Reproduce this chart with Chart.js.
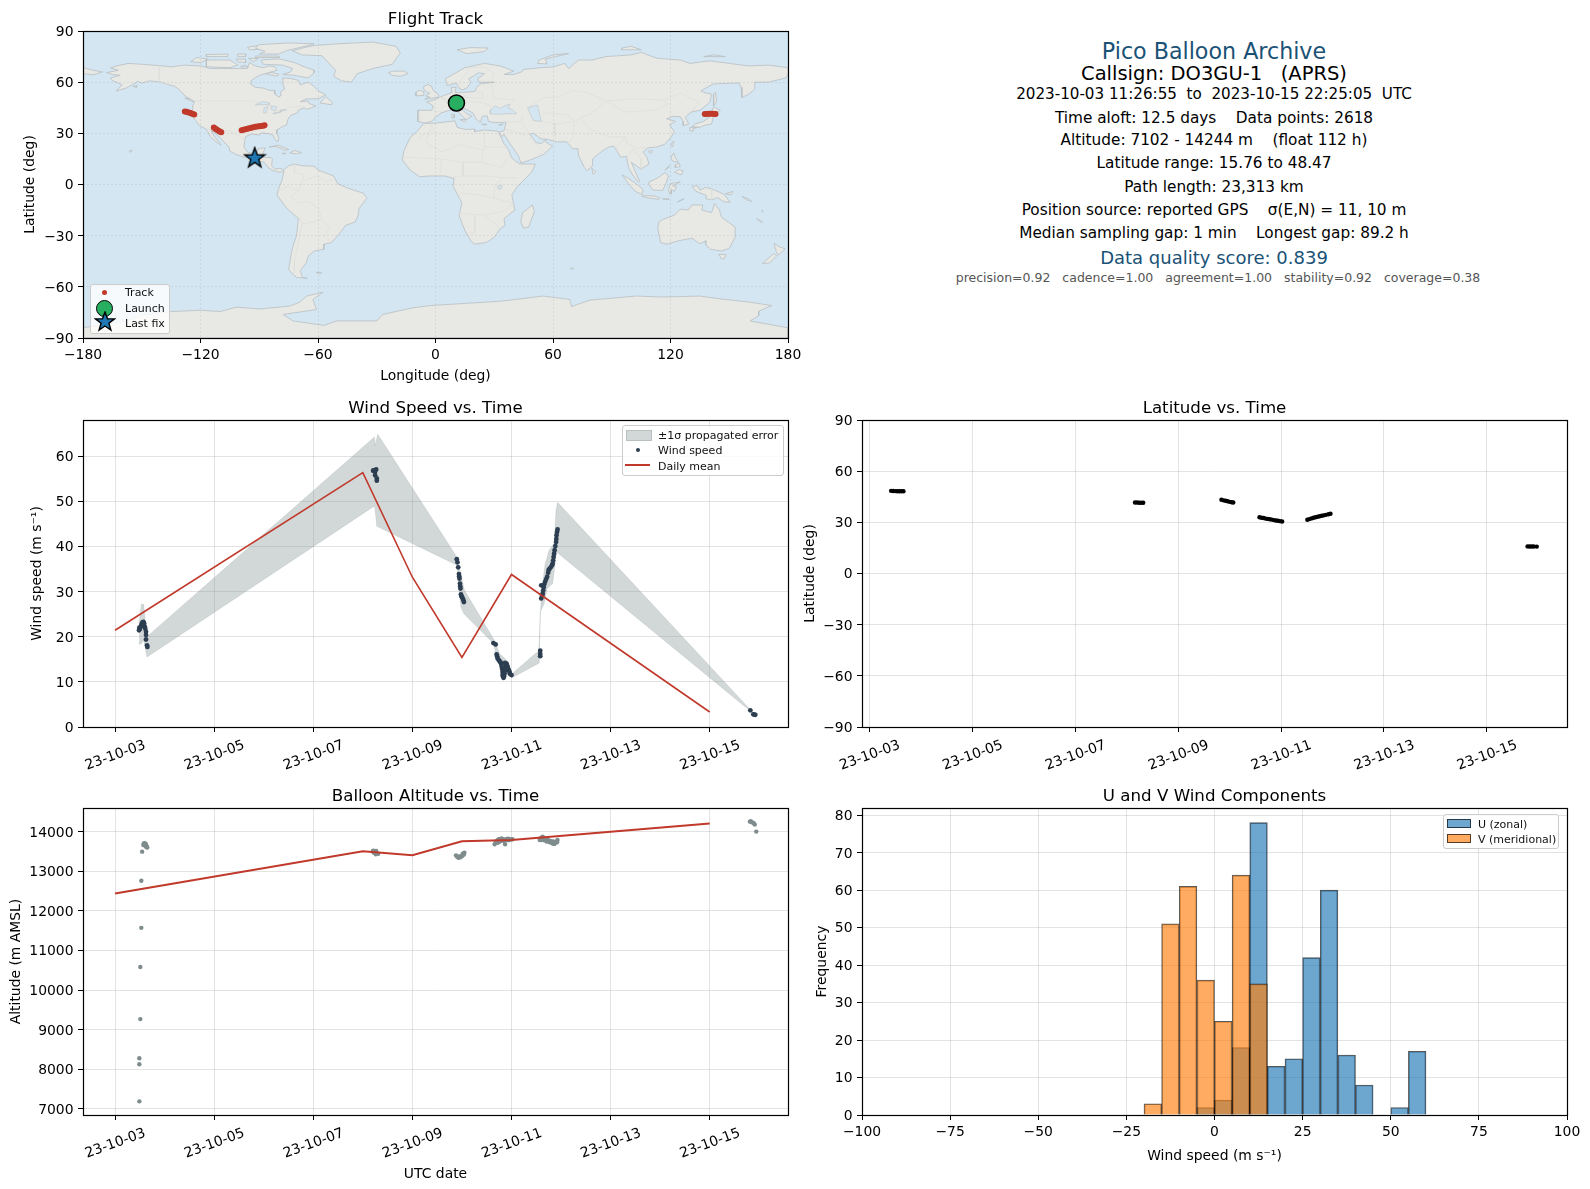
<!DOCTYPE html>
<html>
<head>
<meta charset="utf-8">
<title>Pico Balloon Archive</title>
<script src="https://cdn.jsdelivr.net/npm/chart.js@4/dist/chart.umd.min.js"></script>
<style>
  html, body { margin: 0; padding: 0; background: #fff; }
  body { position: relative; width: 1590px; height: 1189px; overflow: hidden; font-family: "DejaVu Sans", sans-serif; color: #000; }
  canvas { position: absolute; }
  .info { position: absolute; left: 814px; width: 800px; text-align: center; white-space: pre; transform: translateY(-50%); }
  .legend { position: absolute; box-sizing: border-box; background: rgba(255,255,255,.8); border: 1px solid #ccc; border-radius: 3px; font-size: 11px; color: #111; }
  .legend span, .legend i, .legend svg { position: absolute; }
  .legend span { transform: translateY(-50%); white-space: pre; }
</style>
</head>
<body>
<canvas id="mapChart"></canvas>
<canvas id="windChart"></canvas>
<canvas id="latChart"></canvas>
<canvas id="altChart"></canvas>
<canvas id="histChart"></canvas>

<div class="info" style="top:51px;font-size:22.2px;color:#1a5276">Pico Balloon Archive</div>
<div class="info" style="top:73px;font-size:19.5px">Callsign: DO3GU-1   (APRS)</div>
<div class="info" style="top:94px;font-size:15.15px">2023-10-03 11:26:55  to  2023-10-15 22:25:05  UTC</div>
<div class="info" style="top:118px;font-size:15.3px">Time aloft: 12.5 days    Data points: 2618</div>
<div class="info" style="top:140px;font-size:15.3px">Altitude: 7102 - 14244 m    (float 112 h)</div>
<div class="info" style="top:163px;font-size:15.3px">Latitude range: 15.76 to 48.47</div>
<div class="info" style="top:187px;font-size:15.3px">Path length: 23,313 km</div>
<div class="info" style="top:210px;font-size:15.3px">Position source: reported GPS    σ(E,N) = 11, 10 m</div>
<div class="info" style="top:233px;font-size:15.3px">Median sampling gap: 1 min    Longest gap: 89.2 h</div>
<div class="info" style="top:257px;font-size:18px;color:#1a5276">Data quality score: 0.839</div>
<div class="info" style="top:277px;left:818px;font-size:12.5px;color:#555">precision=0.92   cadence=1.00   agreement=1.00   stability=0.92   coverage=0.38</div>

<div class="legend" style="left:90px;top:284px;width:80px;height:50px">
  <i style="left:11px;top:5px;width:5px;height:5px;border-radius:50%;background:#c0392b"></i>
  <span style="left:34px;top:7px">Track</span>
  <i style="left:5px;top:15px;width:15px;height:15px;border-radius:50%;background:#27ae60;border:1.5px solid #000"></i>
  <span style="left:34px;top:23px">Launch</span>
  <svg style="left:3px;top:26px" width="22" height="22" viewBox="-11 -11 22 22"><polygon points="0,-10 2.5,-3.2 9.5,-3.1 3.9,1.2 5.9,8.1 0,4 -5.9,8.1 -3.9,1.2 -9.5,-3.1 -2.5,-3.2" fill="#1f77b4" stroke="#000" stroke-width="1.4"/></svg>
  <span style="left:34px;top:38px">Last fix</span>
</div>

<div class="legend" style="left:622px;top:425px;width:162px;height:51px">
  <i style="left:3px;top:4px;width:24px;height:9px;background:rgba(127,140,141,.35);border:.5px solid rgba(127,140,141,.3)"></i>
  <span style="left:35px;top:9px">±1σ propagated error</span>
  <i style="left:13px;top:22px;width:4px;height:4px;border-radius:50%;background:#2c3e50"></i>
  <span style="left:35px;top:24px">Wind speed</span>
  <i style="left:2px;top:38px;width:25px;height:2px;background:#c0392b"></i>
  <span style="left:35px;top:40px">Daily mean</span>
</div>

<div class="legend" style="left:1443px;top:814px;width:116px;height:35px">
  <i style="left:3px;top:4px;width:22px;height:7px;background:rgba(31,119,180,.65);border:1px solid rgba(0,0,0,.65)"></i>
  <span style="left:34px;top:9px">U (zonal)</span>
  <i style="left:3px;top:19px;width:22px;height:7px;background:rgba(255,127,14,.65);border:1px solid rgba(0,0,0,.65)"></i>
  <span style="left:34px;top:24px">V (meridional)</span>
</div>

<script>
// ---- axis ticks
const lonTicks = [-180, -120, -60, 0, 60, 120, 180];
const latTicks = [-90, -60, -30, 0, 30, 60, 90];
const dayTicks = [0, 2, 4, 6, 8, 10, 12];
const dayLabels = ['23-10-03', '23-10-05', '23-10-07', '23-10-09', '23-10-11', '23-10-13', '23-10-15'];
const windTicks = [0, 10, 20, 30, 40, 50, 60];
const altTicks = [7000, 8000, 9000, 10000, 11000, 12000, 13000, 14000];
const histXTicks = [-100, -75, -50, -25, 0, 25, 50, 75, 100];
const histYTicks = [0, 10, 20, 30, 40, 50, 60, 70, 80];

// ---- flight track, degrees
const trackLon = [-128, -127.2, -126.4, -125.6, -124.8, -124, -123.2, -113.2, -112.6, -112, -111.4, -110.6, -110, -109.4,
  -99, -98, -97, -96, -95, -94, -93, -92, -91, -90, -89, -88, -87.3, 11, 12, 13.5, 137.5, 138.5, 139.5, 140.5, 141.5, 142.5, 143];
const trackLat = [42.8, 42.6, 42.4, 42.1, 41.8, 41.4, 41.1, 33.4, 32.9, 32.4, 31.9, 31.3, 30.9, 30.6,
  31.8, 32.1, 32.4, 32.7, 33, 33.3, 33.5, 33.8, 34, 34.1, 34.3, 34.5, 34.8, 47.9, 48, 48.1, 41.4, 41.4, 41.5, 41.5, 41.5, 41.4, 41.4];
const launchPoint = [10.7, 47.8];
const lastFixPoint = [-92.3, 15.7];

// ---- daily means
const meanDays = [0, 5, 6, 7, 8, 12];
const meanWind = [21.45, 56.4, 33.2, 15.4, 33.8, 3.33];
const meanAlt = [12439, 13502, 13401, 13755, 13789, 14202];

// ---- wind speed samples
const windDays = [0.484, 0.49, 0.5, 0.511, 0.525, 0.538, 0.555, 0.571, 0.585, 0.598, 0.61, 0.625, 0.625, 0.625, 0.645, 0.652,
  5.208, 5.22, 5.248, 5.269, 5.248, 5.282, 5.282,
  6.896, 6.91, 6.925, 6.94, 6.945, 6.95, 6.96, 6.965, 6.97, 6.98, 6.99, 7, 7.015, 7.03, 7.04,
  7.635, 7.68, 7.7, 7.71, 7.72, 7.74, 7.76, 7.78, 7.79, 7.8, 7.81, 7.82, 7.82, 7.84, 7.85, 7.86, 7.87, 7.88, 7.89, 7.9, 7.91, 7.92, 7.93, 7.945, 7.96, 7.97, 8, 7.83, 7.87,
  8.58, 8.58, 8.58, 8.6, 8.6, 8.62, 8.63, 8.64, 8.65, 8.66, 8.68, 8.7, 8.72, 8.74, 8.75, 8.77, 8.8, 8.82, 8.83, 8.84, 8.85, 8.86, 8.87, 8.885, 8.9, 8.905, 8.91, 8.92, 8.93,
  12.82, 12.88, 12.9, 12.92];
const windValues = [21.45, 22, 21.7, 22.04, 22.4, 22.9, 23.2, 23.3, 23, 22.3, 21.8, 21.1, 20.4, 19.4, 18.1, 17.75,
  56.8, 56.9, 56.6, 57.1, 55.8, 55.1, 54.6,
  37.2, 36.5, 35.4, 33.9, 33.4, 32.9, 31.8, 31.2, 30.7, 29.4, 29, 28.8, 28.5, 28.1, 27.7,
  18.6, 18.3, 16.1, 15.7, 15.2, 14.9, 14.6, 14.3, 14.05, 13.5, 12.9, 12.2, 11.5, 10.9, 11.2, 11.8, 12.5, 13.3, 13.9, 14.05, 13.7, 13.3, 13, 12.6, 12.2, 11.8, 11.5, 11.2, 14.2,
  16.9, 16.2, 15.7, 28.5, 31.4, 29.2, 29.6, 30.3, 31, 31.6, 32.2, 32.8, 33.3, 34.2, 34.8, 35.1, 35.5, 35.9, 36.2, 36.9, 37.7, 38.4, 39.2, 40.1, 41, 41.7, 42.5, 43.2, 43.8,
  3.7, 2.8, 2.75, 2.7];

// ---- ±1σ band outline: upper edge forward, lower edge back
const bandUpperDays = [0.484, 0.531, 0.578, 0.618, 0.645, 5.235, 5.248, 5.3, 6.896, 7.05, 7.655, 7.76, 7.9, 8.01, 8.55, 8.6, 8.62, 8.68, 8.76, 8.86, 8.9, 8.93, 12.8, 12.9];
const bandUpper = [22.9, 27.2, 27.2, 22.2, 20, 64.3, 62.3, 64.9, 37.7, 30.3, 19.2, 16.3, 14.8, 11.8, 16.9, 28.8, 31.1, 36.2, 39.2, 40.7, 48.1, 49.8, 4.07, 3];
const bandLowerDays = [0.484, 0.531, 0.578, 0.645, 5.235, 5.248, 5.282, 6.896, 6.98, 7.04, 7.64, 7.7, 7.89, 8.01, 8.56, 8.58, 8.66, 8.72, 8.83, 8.91, 12.8, 12.92];
const bandLower = [18.3, 18.5, 19.2, 15.5, 49, 48.1, 44.5, 35.9, 26.6, 25.1, 18.5, 15.2, 11.8, 10.9, 14.2, 25.5, 27.4, 30.7, 31.8, 38.8, 3.7, 2.6];

// ---- latitude samples
const latDays = [0.42, 0.46, 0.5, 0.54, 0.58, 0.62, 0.66, 5.16, 5.2, 5.24, 5.28, 5.32, 6.84, 6.88, 6.92, 6.96, 7, 7.04, 7.07,
  7.58, 7.62, 7.66, 7.7, 7.74, 7.78, 7.82, 7.86, 7.9, 7.94, 7.98, 8.02,
  8.51, 8.55, 8.59, 8.63, 8.67, 8.71, 8.75, 8.79, 8.83, 8.87, 8.92, 8.96, 12.79, 12.83, 12.87, 12.91, 12.97];
const latValues = [48.47, 48.4, 48.3, 48.25, 48.2, 48.2, 48.2, 41.6, 41.6, 41.5, 41.5, 41.5, 43.2, 42.9, 42.7, 42.4, 42, 41.8, 41.6,
  33, 32.7, 32.5, 32.2, 32, 31.8, 31.6, 31.3, 31.1, 30.9, 30.7, 30.5,
  31.5, 31.9, 32.3, 32.7, 33, 33.3, 33.6, 33.9, 34.1, 34.4, 34.7, 35, 15.9, 15.85, 15.8, 15.8, 15.76];

// ---- altitude samples
const altDays = [0.49, 0.49, 0.49, 0.51, 0.51, 0.53, 0.53, 0.546, 0.57, 0.58, 0.59, 0.6, 0.6, 0.61, 0.62, 0.63, 0.63, 0.64, 0.65,
  5.2, 5.21, 5.22, 5.24, 5.25, 5.26, 5.27, 5.28, 5.31, 5.26,
  6.88, 6.9, 6.92, 6.93, 6.95, 6.97, 6.98, 7.0, 7.01, 7.02, 7.03, 7.05, 7.04,
  7.66, 7.68, 7.7, 7.72, 7.73, 7.75, 7.76, 7.78, 7.79, 7.81, 7.82, 7.84, 7.85, 7.87, 7.88, 7.9, 7.92, 7.94, 7.95, 7.98, 8.0, 8.02, 7.74, 7.8,
  8.57, 8.58, 8.6, 8.6, 8.62, 8.63, 8.65, 8.66, 8.68, 8.69, 8.71, 8.72, 8.74, 8.75, 8.77, 8.78, 8.8, 8.81, 8.83, 8.84, 8.86, 8.87, 8.89, 8.91, 8.93, 8.92, 8.84, 8.66,
  12.81, 12.83, 12.84, 12.87, 12.89, 12.91, 12.94];
const altValues = [7190, 8127, 8278, 9266, 10582, 11570, 12759, 13494, 13660, 13700, 13680, 13660, 13710, 13640, 13690, 13650, 13610, 13620, 13600,
  13500, 13520, 13470, 13510, 13470, 13480, 13510, 13450, 13440, 13430,
  13400, 13370, 13370, 13340, 13360, 13350, 13380, 13380, 13410, 13440, 13440, 13470, 13420,
  13680, 13720, 13764, 13720, 13790, 13740, 13806, 13760, 13810, 13780, 13806, 13770, 13800, 13680, 13780, 13810, 13823, 13780, 13815, 13806, 13800, 13810, 13810, 13830,
  13790, 13823, 13840, 13790, 13860, 13873, 13830, 13780, 13810, 13789, 13750, 13800, 13770, 13780, 13730, 13750, 13760, 13722, 13700, 13750, 13690, 13700, 13722, 13760, 13789, 13730, 13720, 13830,
  14253, 14260, 14240, 14228, 14210, 14177, 14000];

// ---- U and V histograms, 5 m/s bins
const binCentres = [-17.5, -12.5, -7.5, -2.5, 2.5, 7.5, 12.5, 17.5, 22.5, 27.5, 32.5, 37.5, 42.5, 47.5, 52.5, 57.5];
const uCounts = [0, 0, 0, 2, 4, 18, 78, 13, 15, 42, 60, 16, 8, 0, 2, 17];
const vCounts = [3, 51, 61, 36, 25, 64, 35, 0, 0, 0, 0, 0, 0, 0, 0, 0];

// ---- basemap outlines, [lon, lat]
const northAmerica = [[-168, 65.6], [-164, 66.5], [-162, 67], [-166, 68.3], [-163, 69.5], [-157, 71], [-150, 70.5], [-141, 69.7], [-135, 69], [-128, 70], [-120, 69.5], [-115, 68], [-108, 68], [-100, 68], [-96, 68], [-95, 71.5], [-92, 69.5], [-88, 68.5], [-85, 69.5], [-82, 69], [-81, 67], [-87, 65], [-90, 64], [-94, 61], [-94.5, 59], [-92, 57], [-88, 56.5], [-85, 55.3], [-82.3, 55], [-82, 53], [-80, 51.3], [-79, 52], [-79, 54.5], [-77, 56], [-78, 59], [-78, 62.4], [-74, 62.2], [-70, 61], [-69, 58.5], [-65, 60], [-62, 57.5], [-60, 55], [-56, 52.5], [-60, 50.3], [-66, 50.2], [-69, 48.5], [-65, 49], [-64.5, 47.5], [-61, 46], [-64, 44.7], [-66, 44], [-67, 45], [-70, 43.5], [-70.5, 42], [-74, 40.5], [-75.5, 38], [-76, 35], [-78, 34], [-81, 32], [-81, 30], [-80, 27], [-80.5, 25.2], [-82, 26.5], [-83, 29], [-85, 29.7], [-89, 30.3], [-90, 29], [-94, 29.6], [-97, 28], [-97.5, 25], [-97.8, 22], [-96, 19], [-94, 18.2], [-91, 18.8], [-90.5, 21], [-87, 21.5], [-88, 18.5], [-88.5, 16], [-84, 15.8], [-83.3, 15], [-83.7, 11], [-82, 9], [-79.5, 9.5], [-77.5, 8.5], [-78, 7.5], [-80, 7.3], [-83, 8.2], [-85.5, 10], [-87.5, 13], [-91, 14], [-94.5, 16.2], [-97, 15.8], [-101.5, 17.5], [-105, 19.5], [-105.5, 22], [-108, 25], [-110, 27.5], [-112.5, 30], [-114.7, 31.7], [-112.5, 27.5], [-110, 24], [-109.5, 23], [-112, 25], [-115, 28], [-116, 30.5], [-117.2, 32.5], [-120.5, 34.5], [-122.5, 37.5], [-124.3, 40.3], [-124, 46], [-123, 48.5], [-125, 50], [-128, 52], [-130.3, 55], [-133, 57.5], [-137, 58.7], [-140, 60], [-146, 60.8], [-150, 59.5], [-152, 60.5], [-154, 59], [-158, 56.5], [-163, 54.8], [-160, 58.5], [-162, 59.5], [-165, 61], [-166, 62.5], [-161, 64], [-165, 64.5], [-168, 65.6]];
const baffin = [[-80, 73.7], [-72, 71.5], [-67, 69], [-62, 67], [-62, 65.5], [-65, 62.5], [-72, 64], [-78, 64.5], [-74, 66], [-73, 68], [-78, 70], [-88, 70.5], [-89, 73], [-80, 73.7]];
const victoriaIsland = [[-117, 69], [-105, 68.5], [-101, 70], [-105, 73], [-117, 73], [-117, 69]];
const banksIsland = [[-125, 72], [-120, 71.5], [-116, 73.5], [-122, 74.5], [-125, 72]];
const ellesmere = [[-90, 76.5], [-80, 76.5], [-76, 78.5], [-65, 81.5], [-62, 82.5], [-75, 83], [-90, 82], [-92, 80], [-87, 78], [-90, 76.5]];
const devonIsland = [[-92, 75.3], [-80, 75.3], [-80, 74.5], [-92, 74.5], [-92, 75.3]];
const melvilleIsland = [[-117, 75], [-106, 75], [-106, 76.5], [-117, 76.2], [-117, 75]];
const axelHeiberg = [[-95, 79], [-87, 79.5], [-90, 81.5], [-96, 80.5], [-95, 79]];
const southampton = [[-87, 65], [-81, 63.5], [-80, 64.5], [-84, 65.8], [-87, 65]];
const somersetIsland = [[-95.5, 74], [-90.5, 73.8], [-93, 72], [-95.5, 74]];
const princeOfWales = [[-102, 73.5], [-97, 73.5], [-97, 71.5], [-101, 72], [-102, 73.5]];
const kingWilliam = [[-99.5, 69], [-95.5, 69], [-97.5, 70], [-99.5, 69]];
const bathurstIsland = [[-101, 76.5], [-97, 76.5], [-97, 75], [-101, 75], [-101, 76.5]];
const kodiak = [[-154.5, 57.5], [-152.5, 58], [-152.7, 57], [-154.5, 57.5]];
const newfoundland = [[-59, 47.8], [-53, 46.7], [-52.7, 48], [-56, 51.5], [-59, 47.8]];
const vancouverIsland = [[-128, 50.6], [-123.5, 48.4], [-125, 50.2], [-128, 50.6]];
const greenland = [[-73, 78.3], [-68, 76], [-58, 75.5], [-54, 70.5], [-51, 67], [-52, 63.5], [-48, 60.8], [-43, 60], [-40, 65], [-32, 68], [-22, 70.5], [-20, 74], [-18, 77], [-20, 81], [-32, 83.5], [-50, 82.5], [-62, 81.5], [-68, 80], [-73, 78.3]];
const cuba = [[-85, 22], [-80, 23], [-75, 20.5], [-77.5, 20], [-78, 21], [-82, 22.3], [-85, 22]];
const hispaniola = [[-74.4, 18.5], [-72, 20], [-68.5, 18.7], [-71, 18], [-74.4, 18.5]];
const jamaica = [[-78.3, 18.4], [-76.3, 18.2], [-77, 17.8], [-78.3, 18.4]];
const hawaii = [[-156, 20.2], [-155, 19.8], [-155.5, 19], [-156, 20.2]];
const southAmerica = [[-77.5, 8.5], [-75, 11], [-72, 12], [-68, 11], [-62, 10.7], [-60, 8.5], [-52, 5], [-50, 0.5], [-44, -2.5], [-37, -5], [-35, -8], [-39, -14], [-39.5, -18], [-41, -22], [-46, -24], [-48.5, -28], [-53, -34], [-57, -35], [-57, -38], [-62, -39], [-65, -42], [-66, -46], [-69, -50.5], [-68, -54.5], [-65.5, -55], [-71, -54.5], [-75, -50], [-74, -43], [-73, -37], [-71, -30], [-70, -20], [-76, -14], [-81, -6], [-80, -2], [-78.5, 2], [-77.5, 7], [-77.5, 8.5]];
const falklands = [[-61, -51.5], [-58, -51.5], [-59, -52.3], [-61, -51.5]];
const africa = [[-6, 35.8], [0, 36], [10, 37.3], [11, 33.5], [15, 32.3], [20, 32.5], [20, 31], [25, 32], [32, 31.2], [32.5, 30], [35, 24], [37, 21], [39, 15.5], [43, 12], [51, 12], [49, 7], [42, -1], [39, -6], [40.5, -15], [35, -20], [35.5, -24], [33, -26], [30, -31], [26, -34], [20, -35], [18, -33], [15, -27], [12, -18], [13.5, -11], [9, -1], [9.5, 3.5], [5, 5], [-3, 5], [-8, 4.5], [-13, 8.5], [-17, 14.5], [-16, 20], [-13, 27.5], [-9.5, 31], [-6, 35.8]];
const madagascar = [[49.5, -12], [50.5, -16], [47.5, -25], [45, -25.5], [43.5, -22], [44.5, -16.5], [49.5, -12]];
const eurasia = [[-9, 37], [-5.5, 36], [-2, 37], [0, 39.5], [3, 42], [7, 43.5], [10, 44], [12, 42], [15.7, 38], [17, 39], [18.5, 40], [16, 41.5], [13, 44.5], [14, 45], [19, 42], [21, 38], [23, 36.5], [24, 40], [26.5, 40.2], [27, 37], [30, 36.3], [36, 36.5], [35, 31.5], [33, 31], [32.6, 30], [34, 28], [34.9, 29.5], [38, 24], [42.5, 16.5], [43.5, 12.8], [45, 13], [52, 16], [55, 17.5], [59.8, 22.5], [56.4, 24.8], [56.3, 26.2], [54, 24], [51.5, 24.5], [50.5, 26], [48, 29.5], [50, 30], [54, 26.7], [57, 26.5], [61.5, 25], [67, 25], [70, 21], [72.7, 21], [73, 17], [76, 10], [77.5, 8], [80, 11], [80.2, 15], [85, 19.5], [88.5, 22], [91, 22.5], [92.5, 20], [94.5, 16], [97.5, 16.5], [98.5, 10], [100.5, 6], [103.5, 1.5], [104.3, 2], [103, 5], [100, 13], [105, 9], [109, 12], [108, 16], [106, 19], [108.5, 21.5], [113, 22], [117, 23.5], [120.5, 28], [122, 31], [119.5, 35], [122.5, 37], [118, 38.5], [121.5, 40], [125, 39.7], [126.5, 37], [126.5, 34.5], [129.3, 35.5], [127.5, 39.5], [130.5, 42.5], [135, 43.5], [140, 48], [141, 53], [137, 54], [135.5, 55], [142, 59], [155, 59.5], [156, 57], [156.5, 51], [160, 53], [163, 56], [163, 60], [170, 60], [179, 62.5], [180, 65], [180, 68.5], [170, 70], [160, 69.5], [150, 71], [140, 72.5], [130, 71], [125, 73], [113, 74], [105, 77.5], [100, 76], [87, 75], [80, 73], [73, 73], [68, 68], [66, 71], [60, 69], [54, 68.5], [45, 67.5], [44, 66], [40, 64.5], [35, 64.5], [40, 66.5], [33, 69.5], [25, 71], [15, 68.5], [5, 62], [6, 58], [10.5, 59.5], [12.5, 56], [14, 55.5], [16.5, 57], [18, 60], [17, 62], [22, 65.5], [25, 65], [21.5, 62], [22, 60], [30, 60], [23, 59], [21, 57], [20, 54.5], [14, 54], [10, 54], [10.5, 57], [8, 57], [8.5, 54], [4, 52], [-1, 49.5], [-4.5, 48.5], [-1, 46], [-2, 43.5], [-9, 43.5], [-9, 37]];
const chukotka = [[-180, 65], [-175, 64.3], [-170, 66], [-175, 67], [-180, 68.5], [-180, 65]];
const britain = [[-5.5, 50], [1.5, 51.2], [1.5, 52.8], [-1, 55], [-2, 57.5], [-4, 58.7], [-6.5, 57], [-5, 54.5], [-3, 53.5], [-5, 52], [-3, 51.3], [-5.5, 50]];
const ireland = [[-10, 52], [-6, 52.2], [-6, 54.5], [-8.5, 55.2], [-10, 54], [-10, 52]];
const iceland = [[-24, 65.5], [-22, 64], [-18, 63.4], [-14, 65], [-16, 66.5], [-22, 66.4], [-24, 65.5]];
const svalbard = [[11, 79], [16, 76.7], [25, 78], [27, 80], [18, 80.3], [11, 79]];
const novayaZemlya = [[52, 71], [57, 70.7], [56, 73.5], [68, 76.8], [60, 76], [53, 73], [52, 71]];
const severnaya = [[95, 79], [105, 79], [100, 81], [95, 80], [95, 79]];
const newSiberian = [[137, 75], [148, 75], [142, 76], [137, 75]];
const sicily = [[12.5, 38], [15.5, 38.2], [15, 36.7], [12.5, 38]];
const sardinia = [[8.2, 41], [9.7, 41], [9.5, 39], [8.5, 39], [8.2, 41]];
const crete = [[23.6, 35.5], [26.3, 35.2], [24.5, 34.9], [23.6, 35.5]];
const cyprus = [[32.3, 35], [34.5, 35.6], [33.5, 34.6], [32.3, 35]];
const honshu = [[131, 34], [135, 33.5], [137, 34.6], [141, 35.5], [141.8, 39.5], [141, 41.3], [139.8, 39.5], [137, 37], [132.5, 35.5], [131, 34]];
const hokkaido = [[140, 41.8], [143, 42], [145.5, 43.5], [142, 45.4], [141, 43], [140, 41.8]];
const kyushu = [[130, 31.3], [131.8, 31.5], [131.5, 33.5], [129.8, 33.3], [130, 31.3]];
const shikoku = [[132.3, 33], [134.5, 33.6], [134, 34.3], [132.5, 34], [132.3, 33]];
const sakhalin = [[142, 46], [143.5, 49], [143, 54], [142, 53], [142, 46]];
const taiwan = [[120.2, 23], [121.2, 25.2], [121.8, 24.8], [120.9, 22], [120.2, 23]];
const hainan = [[108.7, 19.3], [110.5, 20.1], [110.8, 19], [109.5, 18.2], [108.7, 19.3]];
const sriLanka = [[79.8, 9.5], [81.8, 7.5], [80.5, 6], [79.8, 9.5]];
const luzon = [[120.3, 16], [121.7, 18.5], [122.3, 16], [124, 13], [121, 13.7], [120.3, 16]];
const mindanao = [[122, 7], [125.5, 5.7], [126.5, 8], [124, 8.7], [122, 7]];
const visayas = [[122.5, 10], [125, 10.5], [124.5, 12.5], [122.5, 11.5], [122.5, 10]];
const palawan = [[117.2, 8.4], [119.5, 11.3], [119, 10], [117.2, 8.4]];
const borneo = [[109, 1.5], [111.5, 2.7], [115, 5], [117, 7], [119, 5], [117.8, 1], [116, -3.5], [111, -3.3], [109, 0], [109, 1.5]];
const sumatra = [[95.3, 5.6], [98, 4], [103.5, -0.5], [106, -3], [105.5, -5.9], [102, -4], [98.5, 0.5], [95.3, 5.6]];
const java = [[105.3, -6.8], [108, -6.5], [112, -6.8], [114.5, -7.8], [114, -8.7], [108, -7.8], [105.3, -6.8]];
const sulawesi = [[119.5, -5.5], [119, -3], [120, 0.5], [125, 1.5], [121, -0.8], [123, -1], [122, -4], [120.5, -3], [120.4, -5.5], [119.5, -5.5]];
const newGuinea = [[131, -1], [134, -0.8], [135, -3.3], [138, -1.7], [141, -2.6], [145, -4.5], [147.5, -6], [150.5, -10.5], [147, -10], [144, -7.7], [141, -9], [138, -8.3], [138.5, -6.5], [133, -4], [131, -1]];
const sumbawa = [[116, -8.5], [119, -8.3], [119, -9], [116, -8.5]];
const timor = [[123.5, -10.3], [127, -8.4], [125, -9.3], [123.5, -10.3]];
const newBritain = [[148, -5.5], [152, -4], [151, -6], [148, -5.5]];
const solomons = [[156.5, -7], [160, -8.5], [161.5, -10], [159, -9], [156.5, -7]];
const vanuatu = [[166.5, -15], [167.5, -16], [167, -16.2], [166.5, -15]];
const newCaledonia = [[164, -20], [167, -22], [166, -22], [164, -20]];
const australia = [[114, -22], [113.5, -26], [115, -34], [118, -35], [124, -33], [131, -31.5], [135, -34.8], [138, -33], [138, -35.5], [140.5, -38], [146, -39], [150, -37.5], [153, -31], [153, -25], [146, -19], [145, -15], [142.5, -11], [141, -16.5], [136, -15], [136.5, -12], [131, -12], [129, -15], [125, -14.5], [122, -18], [116, -20.5], [114, -22]];
const tasmania = [[144.7, -41], [148.3, -41], [147.5, -43.5], [146, -43.5], [144.7, -41]];
const newZealandNorth = [[172.8, -34.5], [175.5, -36.5], [178.5, -37.7], [175, -41.5], [174, -39.3], [172.8, -34.5]];
const newZealandSouth = [[172.7, -40.5], [174.3, -41.8], [170.5, -46], [167, -46.3], [172.7, -40.5]];
const kerguelen = [[68.8, -49], [70.5, -49.2], [69.5, -49.8], [68.8, -49]];
const antarctica = [[-180, -84], [-158, -80], [-150, -76.5], [-135, -74.5], [-120, -73.7], [-110, -74.5], [-101.6, -71.9], [-90, -73], [-74.4, -71.3], [-69.3, -69], [-66, -65.5], [-57.4, -63.1], [-62.6, -67.4], [-60.8, -73.3], [-77.8, -76.2], [-72.7, -80], [-57, -82.6], [-50.6, -80], [-30, -80], [-27, -76.2], [-11.6, -72.3], [-3, -71], [14, -69.8], [33.7, -68.4], [55, -65.4], [68.6, -67.4], [69.5, -71.7], [72, -70.5], [78.8, -67.8], [102.6, -65.4], [116, -66], [135, -65.4], [145, -67], [160.6, -69], [171.7, -71], [165, -74.3], [165, -77], [160.6, -80], [180, -84], [180, -90], [-180, -90], [-180, -84]];

const blackSea = [[28, 41.5], [31, 41.2], [36, 41.5], [41.5, 41.5], [39, 44], [37, 45], [38, 47], [35, 46], [33, 44.5], [30.5, 46], [28, 43.5], [28, 41.5]];
const caspianSea = [[47, 45], [52, 46.5], [53, 42], [54, 37], [50, 37.5], [49, 40], [47, 45]];
const lakeSuperior = [[-92, 46.7], [-88, 48.7], [-85, 47.8], [-85, 46.6], [-88, 46.9], [-92, 46.7]];
const lakeMichigan = [[-87.8, 42], [-86.5, 42], [-85.5, 45.5], [-87.5, 45], [-87.8, 42]];
const lakeHuron = [[-84, 46], [-81, 45.5], [-81.7, 43.2], [-83.5, 44], [-84, 46]];
const lakeErieOntario = [[-83, 41.7], [-79, 42.7], [-79.5, 43.5], [-76.2, 44], [-76.5, 43.4], [-79, 43.2], [-79, 42.4], [-83, 41.4], [-83, 41.7]];
const lakeVictoria = [[31.7, -1], [34, -0.5], [33.5, -2.7], [32, -2.7], [31.7, -1]];

const landShapes = [northAmerica, baffin, victoriaIsland, banksIsland, ellesmere, devonIsland, melvilleIsland, axelHeiberg, southampton, somersetIsland, princeOfWales, kingWilliam, bathurstIsland, kodiak, newfoundland, vancouverIsland, greenland, cuba, hispaniola, jamaica, hawaii, southAmerica, falklands, africa, madagascar, eurasia, chukotka, britain, ireland, iceland, svalbard, novayaZemlya, severnaya, newSiberian, sicily, sardinia, crete, cyprus, honshu, hokkaido, kyushu, shikoku, sakhalin, taiwan, hainan, sriLanka, luzon, mindanao, visayas, palawan, borneo, sumatra, java, sulawesi, newGuinea, sumbawa, timor, newBritain, solomons, vanuatu, newCaledonia, australia, tasmania, newZealandNorth, newZealandSouth, kerguelen, antarctica];
const waterShapes = [blackSea, caspianSea, lakeSuperior, lakeMichigan, lakeHuron, lakeErieOntario, lakeVictoria];

// country borders, only the ones that show at this size
const borderLines = [
  [[-123, 49], [-95, 49], [-89, 48], [-83, 46], [-82.5, 42], [-79, 43], [-75, 45], [-70, 46], [-67, 45]],
  [[-141, 69.7], [-141, 60], [-137, 58.7]],
  [[-117, 32.5], [-108, 31.5], [-106, 31.7], [-101, 29.5], [-97.5, 25.9]],
  [[-92, 14.5], [-91, 17.5], [-89, 17.8], [-88.5, 16]],
  [[-70, -4], [-74, -7], [-70, -11], [-65, -10], [-60, -14], [-58, -20], [-54, -26], [-57, -30], [-53, -33.7]],
  [[-70, -4], [-68, 2], [-60, 5], [-57, 2], [-52, 2.5]],
  [[-72, 12], [-72, 7], [-67, 6], [-68, 2]],
  [[-80, -3.5], [-75, -1], [-70, -4]],
  [[-70, -18], [-68, -23], [-70, -33], [-72, -45], [-72, -52]],
  [[-68, -23], [-62, -22], [-58, -20]],
  [[-9, 27.5], [-1, 32], [-2, 35], [-5, 25], [3, 19], [12, 23.5], [25, 20], [25, 32]],
  [[25, 22], [37, 22]],
  [[-16, 16], [-5, 15.5], [3, 15], [14, 13], [24, 13], [24, 20]],
  [[24, 13], [34, 10], [36, 14.5]],
  [[14, 13], [14, 5], [9, 4.5]],
  [[3, 15], [2.5, 6.3]],
  [[14, 5], [27, 5], [34, 4], [42, 4]],
  [[12, -5], [22, -6], [30, -8], [30, -1], [34, 4]],
  [[12, -17], [24, -18], [34, -16], [40, -11], [30, -8]],
  [[20, -18], [20, -28], [17, -29]],
  [[25, -18], [30, -22.5], [33, -26]],
  [[-2, 43.5], [3, 42.5]],
  [[-8.5, 42], [-7, 37]],
  [[8, 49], [2.5, 51], [7, 47.5], [10, 46.5], [13.5, 46.5], [17, 48.5], [24, 48], [29, 45.5]],
  [[14, 54], [15, 51], [24, 50.5], [24, 54], [20, 54.5]],
  [[28, 60], [30, 50.5], [40, 49.5], [38, 47]],
  [[12, 60], [18, 68.5], [25, 69]],
  [[25, 69], [30, 65], [28, 60]],
  [[47, 45], [55, 51], [62, 51], [70, 55], [77, 54], [87, 49], [98, 50], [107, 50], [117, 49.5], [125, 53.5], [135, 48], [131, 43]],
  [[87, 49], [80, 42], [74, 39], [79, 32.5], [88, 28], [97, 28], [98, 24], [102, 21.5], [108, 21.5]],
  [[87, 49], [97, 42.5], [111, 43.5], [119, 47], [117, 49.5]],
  [[54, 37], [62, 35.5], [71, 37], [74, 39]],
  [[55, 42], [67, 41], [71, 37]],
  [[61, 35.5], [61, 29.5], [61.5, 25]],
  [[71, 37], [70, 28], [68, 24]],
  [[44, 37], [46, 33], [48, 30]],
  [[36, 36.5], [44, 37], [44.5, 40]],
  [[35.5, 32.5], [46, 29], [52, 23], [55, 20], [52, 16]],
  [[92, 21], [97, 28]],
  [[98, 16], [101, 21], [105, 15], [105, 9]],
  [[141, -2.6], [141, -9]]
];

// ---- figure layout in pixels, Chart.js draws into these rectangles
const FONT = '"DejaVu Sans", sans-serif';
Chart.defaults.font.family = FONT;
Chart.defaults.font.size = 13.9;
Chart.defaults.color = '#000';
Chart.defaults.animation = false;

const plotFrame = {
  id: 'plotFrame',
  beforeDraw(chart, args, opts) {
    if (!opts.background) return;
    const { left, top, width, height } = chart.chartArea;
    chart.ctx.fillStyle = opts.background;
    chart.ctx.fillRect(left, top, width, height);
  },
  afterDraw(chart) {
    const { left, top, width, height } = chart.chartArea;
    const ctx = chart.ctx;
    ctx.save();
    ctx.strokeStyle = '#000';
    ctx.lineWidth = 1.2;
    ctx.strokeRect(Math.round(left) + 0.5, Math.round(top) + 0.5, Math.round(width), Math.round(height));
    ctx.restore();
  },
};
Chart.register(plotFrame);

function pairs(xs, ys) {
  return xs.map((x, i) => ({ x, y: ys[i] }));
}

function lonLat(list) {
  return list.map(([x, y]) => ({ x, y }));
}

function fixedTicks(values) {
  return scale => {
    scale.ticks = values.map(value => ({ value }));
  };
}

function minusLabel(value) {
  return String(value).replace('-', '\u2212');
}

function dateLabel(value) {
  return dayLabels[dayTicks.indexOf(value)];
}

function axis(values, range, size, gridStyle, extra, isY) {
  return Object.assign({
    type: 'linear',
    min: range[0],
    max: range[1],
    afterBuildTicks: fixedTicks(values),
    afterFit: scale => {
      if (scale.isHorizontal()) scale.height = size;
      else scale.width = size;
    },
    border: { display: false },
    grid: Object.assign({ color: 'rgba(128,128,128,.22)', lineWidth: 1, tickColor: '#000', tickLength: 5, tickWidth: 1 }, gridStyle),
    ticks: { autoSkip: false, maxRotation: 0, minRotation: 0, padding: 4.5, labelOffset: isY ? 1.3 : 0, callback: minusLabel },
  }, extra);
}

function axisTitle(text) {
  return { display: true, text, padding: 0, font: { size: 13.9 } };
}

function place(id, box, yTitleLeft, titleBottom, titleText, config) {
  const canvas = document.getElementById(id);
  const top = box.top - 24;
  const width = box.right - yTitleLeft + 22;
  const height = titleBottom - top;
  canvas.width = width;
  canvas.height = height;
  canvas.style.left = yTitleLeft + 'px';
  canvas.style.top = top + 'px';
  canvas.style.width = width + 'px';
  canvas.style.height = height + 'px';
  config.options = Object.assign({
    responsive: false,
    devicePixelRatio: 1,
    layout: { autoPadding: false, padding: { right: 22 } },
  }, config.options);
  config.options.plugins = Object.assign({
    legend: { display: false },
    tooltip: { enabled: false },
    title: { display: true, text: titleText, fullSize: false, padding: { top: 3, bottom: 1 }, font: { size: 16.67, weight: 'normal' }, color: '#000' },
  }, config.options.plugins);
  return new Chart(canvas, config);
}

// ---- flight track map
const starImage = document.createElement('canvas');
starImage.width = 24;
starImage.height = 24;
(function drawStar(ctx) {
  ctx.translate(12, 12.5);
  ctx.beginPath();
  for (let i = 0; i < 10; i++) {
    const r = i % 2 ? 4.2 : 10.5;
    const a = -Math.PI / 2 + i * Math.PI / 5;
    ctx.lineTo(r * Math.cos(a), r * Math.sin(a));
  }
  ctx.closePath();
  ctx.fillStyle = '#1f77b4';
  ctx.fill();
  ctx.lineWidth = 1.4;
  ctx.strokeStyle = '#000';
  ctx.stroke();
})(starImage.getContext('2d'));

const markerSets = [
  { data: pairs([lastFixPoint[0]], [lastFixPoint[1]]), pointStyle: starImage, pointRadius: 10 },
  { data: pairs([launchPoint[0]], [launchPoint[1]]), pointRadius: 8, backgroundColor: '#27ae60', borderColor: '#000', borderWidth: 1.5 },
  { data: pairs(trackLon, trackLat), pointRadius: 3, backgroundColor: '#c0392b', borderWidth: 0 },
];
const waterSets = waterShapes.map(shape => ({
  data: lonLat(shape), showLine: true, fill: 'shape', pointRadius: 0, borderWidth: 0.7,
  borderColor: '#c2c8cb', backgroundColor: '#d4e6f1',
}));
const borderSets = borderLines.map(line => ({
  data: lonLat(line), showLine: true, fill: false, pointRadius: 0, borderWidth: 0.6, borderColor: '#dcddd9',
}));
const landSets = landShapes.map(shape => ({
  data: lonLat(shape), showLine: true, fill: 'shape', pointRadius: 0, borderWidth: 0.8,
  borderColor: '#b9bfc3', backgroundColor: '#e8e8e4',
}));

const mapGrid = { z: 1, color: 'rgba(130,130,130,.22)', lineWidth: 0.7 };
const mapBorder = { display: false, dash: [2, 2] };

place('mapChart', { top: 31, right: 788 }, 22, 385, 'Flight Track', {
  type: 'scatter',
  data: { datasets: [...markerSets, ...waterSets, ...borderSets, ...landSets] },
  options: {
    plugins: { plotFrame: { background: '#d4e6f1' } },
    scales: {
      x: axis(lonTicks, [-180, 180], 47, mapGrid, { title: axisTitle('Longitude (deg)'), border: mapBorder }),
      y: axis(latTicks, [-90, 90], 61, mapGrid, { title: axisTitle('Latitude (deg)'), border: mapBorder }, true),
    },
  },
});

// ---- time axes share their label layout
function dateAxis(range, height, titleText) {
  const extra = {};
  if (titleText) extra.title = axisTitle(titleText);
  const scale = axis(dayTicks, range, height, {}, extra);
  scale.ticks = { autoSkip: false, maxRotation: 20, minRotation: 20, padding: 5, labelOffset: 30, callback: dateLabel };
  return scale;
}

const bandOutline = pairs(bandUpperDays, bandUpper).concat(pairs(bandLowerDays, bandLower).reverse());

place('windChart', { top: 420, right: 788 }, 29, 777, 'Wind Speed vs. Time', {
  type: 'scatter',
  data: {
    datasets: [
      { data: pairs(meanDays, meanWind), showLine: true, pointRadius: 0, borderColor: '#c0392b', borderWidth: 1.6 },
      { data: pairs(windDays, windValues), pointRadius: 2.4, backgroundColor: '#2c3e50', borderWidth: 0 },
      { data: bandOutline, showLine: true, fill: 'shape', pointRadius: 0, borderWidth: 0.6, borderColor: 'rgba(127,140,141,.3)', backgroundColor: 'rgba(127,140,141,.35)' },
    ],
  },
  options: {
    scales: {
      x: dateAxis([-0.647, 13.58], 50),
      y: axis(windTicks, [0, 68.05], 54, {}, { title: axisTitle('Wind speed (m s\u207B\u00B9)') }, true),
    },
  },
});

place('latChart', { top: 420, right: 1567 }, 802, 777, 'Latitude vs. Time', {
  type: 'scatter',
  data: { datasets: [{ data: pairs(latDays, latValues), pointRadius: 2.2, backgroundColor: '#000', borderWidth: 0 }] },
  options: {
    scales: {
      x: dateAxis([-0.146, 13.557], 50),
      y: axis(latTicks, [-90, 90], 60, {}, { title: axisTitle('Latitude (deg)') }, true),
    },
  },
});

place('altChart', { top: 808, right: 788 }, 8, 1183, 'Balloon Altitude vs. Time', {
  type: 'scatter',
  data: {
    datasets: [
      { data: pairs(meanDays, meanAlt), showLine: true, pointRadius: 0, borderColor: '#c0392b', borderWidth: 2 },
      { data: pairs(altDays, altValues), pointRadius: 2.2, backgroundColor: '#7f8c8d', borderWidth: 0 },
    ],
  },
  options: {
    scales: {
      x: dateAxis([-0.647, 13.58], 68, 'UTC date'),
      y: axis(altTicks, [6845, 14596], 75, {}, { title: axisTitle('Altitude (m AMSL)') }, true),
    },
  },
});

function histBars(counts) {
  return pairs(binCentres, counts).filter(bar => bar.y > 0);
}

place('histChart', { top: 808, right: 1567 }, 814, 1165, 'U and V Wind Components', {
  type: 'bar',
  data: {
    datasets: [
      { label: 'V (meridional)', data: histBars(vCounts), backgroundColor: 'rgba(255,127,14,.65)', borderColor: 'rgba(0,0,0,.65)', borderWidth: 1 },
      { label: 'U (zonal)', data: histBars(uCounts), backgroundColor: 'rgba(31,119,180,.65)', borderColor: 'rgba(0,0,0,.65)', borderWidth: 1 },
    ],
  },
  options: {
    datasets: { bar: { grouped: false, barPercentage: 1, categoryPercentage: 1 } },
    scales: {
      x: axis(histXTicks, [-100, 100], 50, { offset: false }, { offset: false, title: axisTitle('Wind speed (m s\u207B\u00B9)') }),
      y: axis(histYTicks, [0, 81.9], 48, {}, { title: axisTitle('Frequency') }, true),
    },
  },
});
</script>
</body>
</html>
